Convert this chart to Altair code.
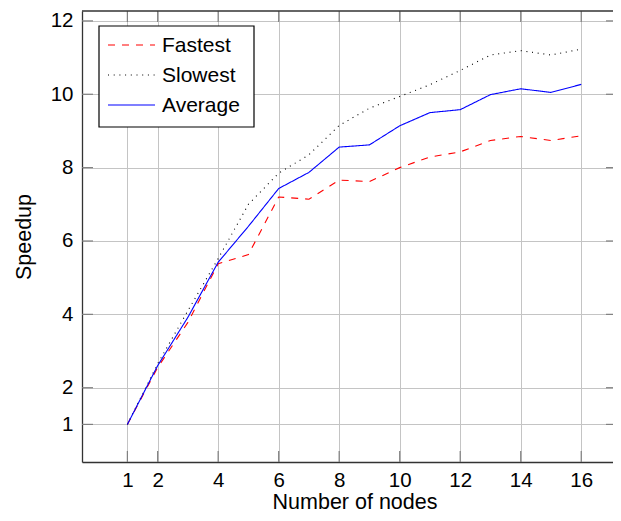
import altair as alt
import pandas as pd

nodes = list(range(1, 17))
fastest = [1.0, 2.55, 3.78, 5.38, 5.63, 7.2, 7.14, 7.66, 7.62, 8.0, 8.29, 8.43, 8.74, 8.85, 8.74, 8.87]
slowest = [1.0, 2.65, 4.1, 5.52, 7.0, 7.85, 8.35, 9.15, 9.62, 9.94, 10.26, 10.65, 11.07, 11.19, 11.07, 11.23]
average = [1.0, 2.6, 3.92, 5.42, 6.4, 7.43, 7.87, 8.56, 8.62, 9.14, 9.5, 9.58, 9.99, 10.15, 10.05, 10.27]
series_names = ["Fastest", "Slowest", "Average"]
series_colors = ["#ff0000", "#000000", "#0000ff"]
series_dashes = [[7, 7], [1, 4.7], [1, 0]]
x_ticks = [1, 2, 4, 6, 8, 10, 12, 14, 16]
y_ticks = [1, 2, 4, 6, 8, 10, 12]

rows = []
for name, vals in zip(series_names, [fastest, slowest, average]):
    for n, v in zip(nodes, vals):
        rows.append({"nodes": n, "speedup": v, "series": name})
df = pd.DataFrame(rows)
xt = pd.DataFrame({"t": x_ticks})
yt = pd.DataFrame({"t": y_ticks})
one = pd.DataFrame({"a": [0]})

W, H = 531, 451
FONT = "Liberation Sans"
xscale = alt.Scale(domain=[-0.5, 17.05], nice=False, zero=False)
yscale = alt.Scale(domain=[-0.025, 12.27], nice=False, zero=False)

lines = alt.Chart(df).mark_line(strokeWidth=1.1).encode(
    x=alt.X("nodes:Q", scale=xscale,
            axis=alt.Axis(values=x_ticks, format="d", tickSize=0, labelPadding=8,
                          title="Number of nodes", titleX=272.5, titleY=46,
                          titleAlign="center", titleBaseline="alphabetic",
                          grid=True, gridColor="#c4c4c4", gridWidth=1,
                          domainColor="#333333", domainWidth=1.3)),
    y=alt.Y("speedup:Q", scale=yscale,
            axis=alt.Axis(values=y_ticks, format="d", tickSize=0, labelPadding=9,
                          title="Speedup", titleAngle=270, titleX=-52, titleY=H / 2,
                          titleAlign="center", titleBaseline="alphabetic",
                          grid=True, gridColor="#c4c4c4", gridWidth=1,
                          domainColor="#333333", domainWidth=1.3)),
    color=alt.Color("series:N", scale=alt.Scale(domain=series_names, range=series_colors), legend=None),
    strokeDash=alt.StrokeDash("series:N", scale=alt.Scale(domain=series_names, range=series_dashes), legend=None),
    order=alt.Order("nodes:Q"),
)

tick_color = "#808080"
xb = alt.Chart(xt).mark_rule(color=tick_color, strokeWidth=1.2).encode(
    x=alt.X("t:Q", scale=xscale), y=alt.value(H), y2=alt.value(H - 11))
xtop = alt.Chart(xt).mark_rule(color=tick_color, strokeWidth=1.2).encode(
    x=alt.X("t:Q", scale=xscale), y=alt.value(0), y2=alt.value(11))
yl = alt.Chart(yt).mark_rule(color=tick_color, strokeWidth=1.2).encode(
    y=alt.Y("t:Q", scale=yscale), x=alt.value(0), x2=alt.value(11))
yr = alt.Chart(yt).mark_rule(color=tick_color, strokeWidth=1.2).encode(
    y=alt.Y("t:Q", scale=yscale), x=alt.value(W - 7), x2=alt.value(W))
top = alt.Chart(one).mark_rule(color="#333333", strokeWidth=1.3).encode(
    x=alt.value(0), x2=alt.value(W), y=alt.value(0))

# legend (manual, placed at the upper left of the plot)
box = alt.Chart(one).mark_rect(fill="white", stroke="black", strokeWidth=1.2).encode(
    x=alt.value(17), x2=alt.value(172), y=alt.value(15), y2=alt.value(116))
legend_layers = [box]
for i, (name, col, dash) in enumerate(zip(series_names, series_colors, series_dashes)):
    yy = 34 + 30 * i
    legend_layers.append(
        alt.Chart(one).mark_rule(color=col, strokeDash=dash, strokeWidth=1.1).encode(
            x=alt.value(26), x2=alt.value(73), y=alt.value(yy)))
    legend_layers.append(
        alt.Chart(one).mark_text(text=name, font=FONT, fontSize=21, align="left",
                                 baseline="middle", color="black").encode(
            x=alt.value(80), y=alt.value(yy + 1)))

chart = alt.layer(xb, xtop, yl, yr, top, lines, *legend_layers).properties(
    width=W, height=H,
    autosize=alt.AutoSizeParams(type="none"),
    padding={"left": 74, "top": 3, "right": 0, "bottom": 51},
).configure_view(stroke=None).configure_axis(
    labelFont=FONT, labelFontSize=20.5, labelColor="black",
    titleFont=FONT, titleFontSize=21.5, titleColor="black", titleFontWeight="normal",
)

chart.save("out.html", embed_options={"renderer": "svg", "actions": False})
